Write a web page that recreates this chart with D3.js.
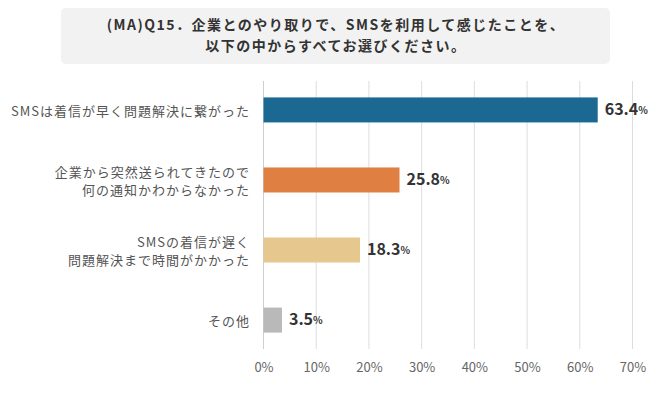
<!DOCTYPE html>
<html><head><meta charset="utf-8">
<script src="https://cdn.jsdelivr.net/npm/d3@7"></script>
<style>
body{margin:0;background:#fff;}
text{font-family:"Noto Sans CJK JP","Noto Sans",sans-serif;}
</style></head>
<body><svg id="c" width="670" height="399"></svg>
<script>
const titleLines = ["(MA)Q15．企業とのやり取りで、SMSを利用して感じたことを、", "以下の中からすべてお選びください。"];
const categories = [
  ["SMSは着信が早く問題解決に繋がった"],
  ["企業から突然送られてきたので", "何の通知かわからなかった"],
  ["SMSの着信が遅く", "問題解決まで時間がかかった"],
  ["その他"]
];
const values = [63.4, 25.8, 18.3, 3.5];
const colors = ["#1b6893", "#df7f42", "#e6c78d", "#b9b9b9"];
const tickValues = [0, 10, 20, 30, 40, 50, 60, 70];

const svg = d3.select("#c");
// title box
svg.append("rect").attr("x", 61).attr("y", 8).attr("width", 549).attr("height", 56)
  .attr("rx", 5).attr("fill", "#f2f2f2");
const tt = svg.append("text").attr("text-anchor", "middle")
  .attr("font-size", 14).attr("font-weight", "bold").attr("fill", "#333")
  .attr("letter-spacing", 1.5);
titleLines.forEach((l, i) => {
  tt.append("tspan").attr("x", 336).attr("y", 30 + i * 21).text(l);
});

const x = d3.scaleLinear().domain([0, 70]).range([263.5, 632.5]);
const y = d3.scaleBand().domain(d3.range(categories.length)).range([75, 355]).paddingInner(0.643).paddingOuter(0.32);

// grid
svg.append("g").selectAll("line").data(tickValues).enter().append("line")
  .attr("x1", d => x(d)).attr("x2", d => x(d)).attr("y1", 81).attr("y2", 349)
  .attr("stroke", d => d === 0 ? "#cfcfcf" : "#dcdcdc").attr("stroke-width", 1);

// x axis labels
const ax = svg.append("g").attr("transform", "translate(0,368)")
  .call(d3.axisBottom(x).tickValues(tickValues).tickFormat(d => d + "%").tickSize(0));
ax.select(".domain").remove();
ax.selectAll("text").attr("font-size", 13).attr("fill", "#666").attr("dy", null)
  .attr("y", 0).attr("dominant-baseline", "middle")
  .attr("font-family", "\"Noto Sans CJK JP\",sans-serif");

// bars
svg.append("g").selectAll("rect").data(values).enter().append("rect")
  .attr("x", x(0)).attr("y", (d, i) => y(i)).attr("width", d => x(d) - x(0))
  .attr("height", y.bandwidth()).attr("fill", (d, i) => colors[i]);

// category labels
categories.forEach((lines, i) => {
  const cy = y(i) + y.bandwidth() / 2;
  const lh = 17.5;
  const t = svg.append("text").attr("text-anchor", "end")
    .attr("font-size", 13).attr("fill", "#555").attr("letter-spacing", 1);
  lines.forEach((l, j) => {
    t.append("tspan").attr("x", 250)
      .attr("y", cy + (j - (lines.length - 1) / 2) * lh + 6)
      .text(l);
  });
});

// value labels
values.forEach((v, i) => {
  const t = svg.append("text").attr("x", x(v) + 7).attr("y", y(i) + y.bandwidth() / 2 + 1)
    .attr("dominant-baseline", "middle").attr("fill", "#333").attr("font-weight", "bold");
  t.append("tspan").attr("font-size", 16).text(v.toFixed(1));
  t.append("tspan").attr("font-size", 10).text("%");
});
</script></body></html>
